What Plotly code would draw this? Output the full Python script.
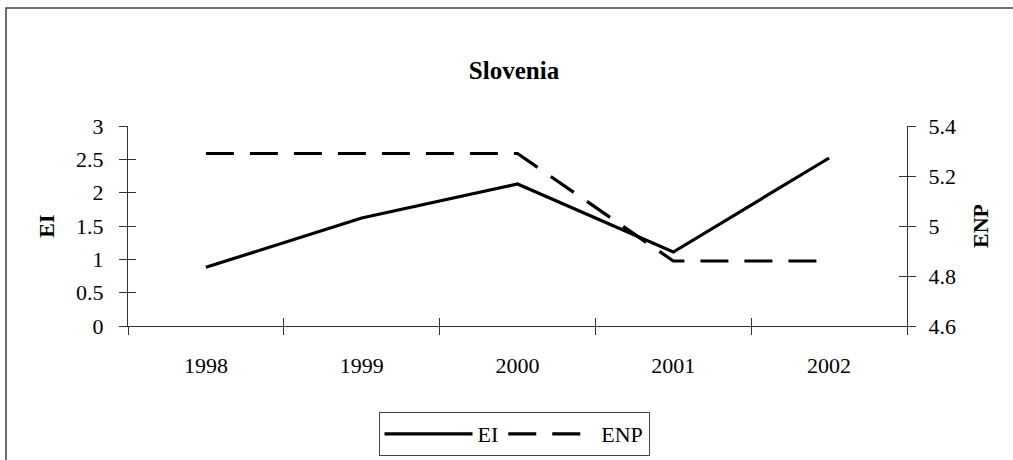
import plotly.graph_objects as go

years = [1998, 1999, 2000, 2001, 2002]
ei = [0.88, 1.62, 2.13, 1.11, 2.52]
enp = [5.29, 5.29, 5.29, 4.86, 4.86]
title_text = "Slovenia"

FONT = "Liberation Serif"
W, H = 1013, 460
L, R, T, B = 128, 106, 126, 134
pw, ph = W - L - R, H - T - B

bounds = [y - 0.5 for y in years] + [years[-1] + 0.5]
xr = [bounds[0], bounds[-1]]

fig = go.Figure()
fig.add_trace(go.Scatter(x=years, y=ei, name="EI", mode="lines",
                         line=dict(color="black", width=3.2), xaxis="x", yaxis="y"))
fig.add_trace(go.Scatter(x=years, y=enp, name="ENP", mode="lines",
                         line=dict(color="black", width=3.2, dash="28px,16px"),
                         xaxis="x", yaxis="y2"))
# invisible helpers so the tick-only overlay axes render
for xa, ya in [("x2", "y3"), ("x3", "y4")]:
    fig.add_trace(go.Scatter(x=years, y=[None] * len(years), xaxis=xa, yaxis=ya,
                             showlegend=False, hoverinfo="skip", mode="lines"))

axcol = "#333333"
tickfont = dict(family=FONT, size=22, color="black")

fig.update_layout(
    width=W, height=H,
    margin=dict(l=L, r=R, t=T, b=B, autoexpand=False),
    paper_bgcolor="white", plot_bgcolor="white",
    title=dict(text="<b>" + title_text + "</b>", x=514 / W, xanchor="center",
               y=1 - 70 / H, yanchor="middle",
               font=dict(family=FONT, size=25, color="black")),
    xaxis=dict(range=xr, tickvals=years, ticktext=[str(y) for y in years],
               ticks="", showline=True, linecolor=axcol, linewidth=1,
               showgrid=False, zeroline=False, tickfont=tickfont, ticklabelstandoff=20),
    xaxis2=dict(range=xr, overlaying="x", anchor="y", tickvals=bounds, ticks="outside",
                ticklen=8, tickcolor=axcol, showticklabels=False, showline=False,
                showgrid=False, zeroline=False),
    xaxis3=dict(range=xr, overlaying="x", anchor="y", tickvals=bounds, ticks="inside",
                ticklen=8, tickcolor=axcol, showticklabels=False, showline=False,
                showgrid=False, zeroline=False),
    yaxis=dict(range=[0, 3], dtick=0.5, tick0=0, ticks="outside", ticklen=8, tickcolor=axcol,
               showline=True, linecolor=axcol, linewidth=1, showgrid=False, zeroline=False,
               tickfont=tickfont, ticklabelstandoff=11,
               title=dict(text="<b>EI</b>", font=dict(family=FONT, size=22, color="black"),
                          standoff=15)),
    yaxis2=dict(range=[4.6, 5.4], dtick=0.2, tick0=4.6, overlaying="y", side="right", anchor="x",
                ticks="outside", ticklen=8, tickcolor=axcol, showline=True, linecolor=axcol,
                linewidth=1, showgrid=False, zeroline=False, tickfont=tickfont,
                ticklabelstandoff=8,
                title=dict(text="<b>ENP</b>", font=dict(family=FONT, size=22, color="black"),
                           standoff=17)),
    yaxis3=dict(range=[0, 3], dtick=0.5, tick0=0, overlaying="y", side="left", anchor="x",
                ticks="inside", ticklen=8, tickcolor=axcol, showticklabels=False,
                showline=False, showgrid=False, zeroline=False),
    yaxis4=dict(range=[4.6, 5.4], dtick=0.2, tick0=4.6, overlaying="y", side="right", anchor="x",
                ticks="inside", ticklen=8, tickcolor=axcol, showticklabels=False,
                showline=False, showgrid=False, zeroline=False),
    showlegend=True,
    legend=dict(orientation="h", x=(514 - L) / pw, xanchor="center",
                y=(H - B - 412) / ph, yanchor="top",
                bordercolor="#444444", borderwidth=1, bgcolor="white",
                font=dict(family=FONT, size=22, color="black"),
                itemwidth=88, tracegroupgap=0),
)

# outer frame (left and top edges visible)
fx0 = (6 - L) / pw
fy_top = (H - B - 8) / ph
fy_bot = (H - B - 480) / ph
fig.add_shape(type="path", xref="paper", yref="paper",
              path=f"M {fx0} {fy_bot} L {fx0} {fy_top} L {(1020 - L) / pw} {fy_top}",
              line=dict(color="#404040", width=1.5))

fig.write_html("out.html", config={"displayModeBar": False},
               post_script="document.body.style.margin='0px';document.body.style.overflow='hidden';")
